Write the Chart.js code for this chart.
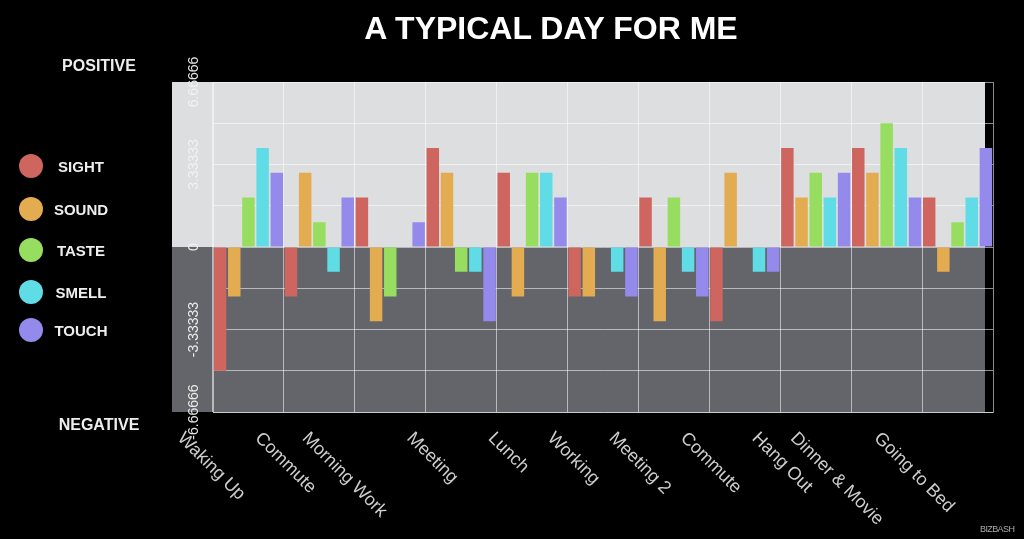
<!DOCTYPE html>
<html>
<head>
<meta charset="utf-8">
<title>A Typical Day For Me</title>
<script src="https://cdn.jsdelivr.net/npm/chart.js@4"></script>
<style>
  body { margin: 0; background: #000; }
  #wrap { position: relative; width: 1024px; height: 539px; background: #000; overflow: hidden;
          font-family: "Liberation Sans", Arial, Helvetica, sans-serif; }
  #chart { position: absolute; left: 0; top: 0; }
  .title { position: absolute; left: 551px; top: 28px; transform: translate(-50%, -50%);
           color: #fff; font-weight: bold; font-size: 32px; white-space: nowrap; }
  .side { position: absolute; left: 99px; transform: translate(-50%, -50%);
          color: #eee; font-weight: bold; font-size: 16px; }
  .legend-item { position: absolute; left: 0; width: 120px; height: 24px; transform: translateY(-50%); }
  .legend-item .dot { position: absolute; left: 19px; top: 0; width: 24px; height: 24px; border-radius: 50%; }
  .legend-item .lbl { position: absolute; left: 81px; top: 12px; transform: translate(-50%, -50%);
                      color: #eee; font-weight: bold; font-size: 15px; }
  .brand { position: absolute; left: 980px; top: 524px; color: #aaa; font-size: 9px; letter-spacing: -0.6px; }
</style>
</head>
<body>
<div id="wrap">
  <canvas id="chart" width="1024" height="539"></canvas>
  <div class="title">A TYPICAL DAY FOR ME</div>
  <div class="side" style="top:66px">POSITIVE</div>
  <div class="side" style="top:425px">NEGATIVE</div>
  <div id="legend"></div>
  <div class="brand">BIZBASH</div>
</div>
<script>
// categories along the day
const categories = ["Waking Up", "Commute", "Morning Work", "Meeting", "Lunch", "Working",
  "Meeting 2", "Commute", "Hang Out", "Dinner & Movie", "Going to Bed"];

// one value per category for each sense
const sight = [-5, -2, 2, 4, 3, -2, 2, -3, 4, 4, 2];
const sound = [-2, 3, -3, 3, -2, -2, -3, 3, 2, 3, -1];
const taste = [2, 1, -2, -1, 3, 0, 2, 0, 3, 5, 1];
const smell = [4, -1, 0, -1, 3, -1, -1, -1, 2, 4, 2];
const touch = [3, 2, 1, -3, 2, -2, -2, -1, 3, 2, 4];

// y axis: grid lines and the labels that are printed
const yGrid = [-6.66666, -5, -3.33333, -1.66667, 0, 1.66667, 3.33333, 5, 6.66666];
const yTickLabels = ["6.66666", "3.33333", "0", "-3.33333", "-6.66666"];

const senses = [
  { name: "SIGHT", color: "rgb(206,101,94)", data: sight },
  { name: "SOUND", color: "rgb(228,172,80)", data: sound },
  { name: "TASTE", color: "rgb(150,221,96)", data: taste },
  { name: "SMELL", color: "rgb(96,220,230)", data: smell },
  { name: "TOUCH", color: "rgb(148,138,236)", data: touch },
];

// html legend on the left
const legendTops = [166, 209, 250, 292, 330];
const legend = document.getElementById("legend");
senses.forEach((s, i) => {
  const item = document.createElement("div");
  item.className = "legend-item";
  item.style.top = legendTops[i] + "px";
  item.innerHTML = '<div class="dot" style="background:' + s.color + '"></div><div class="lbl">' + s.name + "</div>";
  legend.appendChild(item);
});

// paints the grey positive / negative halves and the rotated labels
const backdrop = {
  id: "backdrop",
  beforeDraw(chart) {
    const { ctx, chartArea } = chart;
    const y0 = chart.scales.y.getPixelForValue(0);
    const left = chartArea.left - 41;
    const right = chartArea.right - 8;
    ctx.save();
    ctx.fillStyle = "rgb(221,222,224)";
    ctx.fillRect(left, chartArea.top, right - left, y0 - chartArea.top);
    ctx.fillStyle = "rgb(99,101,106)";
    ctx.fillRect(left, y0, right - left, chartArea.bottom - y0);
    ctx.restore();
  },
  afterDraw(chart) {
    const { ctx, chartArea } = chart;
    const xs = chart.scales.x;
    const ys = chart.scales.y;
    ctx.save();
    // y labels, turned to read upwards
    ctx.font = "14px 'Liberation Sans', Arial, sans-serif";
    ctx.fillStyle = "rgba(242,242,242,0.95)";
    ctx.textAlign = "center";
    ctx.textBaseline = "middle";
    yTickLabels.forEach((t) => {
      const y = ys.getPixelForValue(parseFloat(t));
      ctx.save();
      ctx.translate(chartArea.left - 19, y);
      ctx.rotate(-Math.PI / 2);
      ctx.fillText(t, 0, 0);
      ctx.restore();
    });
    // x labels, slanting down to the right and ending at the group centre
    ctx.font = "18px 'Liberation Sans', Arial, sans-serif";
    ctx.fillStyle = "rgb(205,205,205)";
    ctx.textAlign = "left";
    ctx.textBaseline = "top";
    const a = Math.PI / 4;
    categories.forEach((c, i) => {
      const cx = xs.getPixelForValue(i);
      const w = ctx.measureText(c).width;
      ctx.save();
      ctx.translate(cx - w * Math.cos(a), chartArea.bottom + 17);
      ctx.rotate(a);
      ctx.fillText(c, 0, 0);
      ctx.restore();
    });
    ctx.restore();
  },
};

const ctx = document.getElementById("chart").getContext("2d");
new Chart(ctx, {
  type: "bar",
  data: {
    labels: categories,
    datasets: senses.map((s) => ({
      label: s.name,
      data: s.data,
      backgroundColor: s.color,
      borderWidth: 0,
      categoryPercentage: 1.0,
      barPercentage: 0.88,
    })),
  },
  options: {
    responsive: false,
    animation: false,
    layout: { padding: { left: 213, right: 31, top: 82, bottom: 127 } },
    plugins: { legend: { display: false }, tooltip: { enabled: false }, title: { display: false } },
    scales: {
      x: {
        ticks: { display: false },
        grid: { color: "rgba(255,255,255,0.55)", drawTicks: false, offset: true },
        border: { color: "rgba(255,255,255,0.55)" },
      },
      y: {
        min: -6.66666,
        max: 6.66666,
        afterBuildTicks: (scale) => { scale.ticks = yGrid.map((v) => ({ value: v })); },
        ticks: { display: false },
        grid: { color: "rgba(255,255,255,0.55)", drawTicks: false },
        border: { color: "rgba(255,255,255,0.55)" },
      },
    },
  },
  plugins: [backdrop],
});
</script>
</body>
</html>
